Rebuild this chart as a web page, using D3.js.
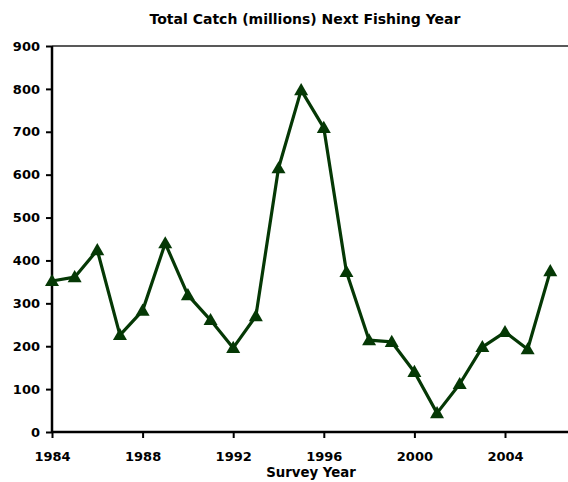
<!DOCTYPE html>
<html>
<head>
<meta charset="utf-8">
<script src="https://cdn.jsdelivr.net/npm/d3@7"></script>
<style>
  body { margin: 0; background: #fff; }
  svg { display: block; font-family: "DejaVu Sans", sans-serif; }
</style>
</head>
<body>
<svg id="chart" width="568" height="482"></svg>
<script>
// survey years and total catch (millions)
var years = [1984, 1985, 1986, 1987, 1988, 1989, 1990, 1991, 1992, 1993, 1994, 1995,
             1996, 1997, 1998, 1999, 2000, 2001, 2002, 2003, 2004, 2005, 2006];
var catchValues = [352, 361, 424, 226, 283, 440, 319, 261, 196, 270, 615, 797,
                   709, 373, 214, 210, 140, 44, 112, 198, 233, 193, 375];
var xTicks = [1984, 1988, 1992, 1996, 2000, 2004];
var yTicks = [0, 100, 200, 300, 400, 500, 600, 700, 800, 900];

var svg = d3.select("#chart");

var x = d3.scaleLinear()
    .domain([1984, 2007])
    .range([52, 52 + 23 * 22.65]);

var y = d3.scaleLinear()
    .domain([0, 900])
    .range([432, 46]);

// top frame line
svg.append("line")
    .attr("x1", x(1984))
    .attr("x2", 568)
    .attr("y1", y(900))
    .attr("y2", y(900))
    .attr("stroke", "#222")
    .attr("stroke-width", 1.6);

var yAxis = svg.append("g")
    .attr("transform", "translate(" + x(1984) + ",0)")
    .call(d3.axisLeft(y).tickValues(yTicks).tickSize(6).tickPadding(6));

var xAxis = svg.append("g")
    .attr("transform", "translate(0," + y(0) + ")")
    .call(d3.axisBottom(x).tickValues(xTicks).tickFormat(d3.format("d")).tickSize(6).tickPadding(14));

[yAxis, xAxis].forEach(function (ax) {
    ax.attr("font-family", null).attr("font-size", null);
    ax.select(".domain").attr("stroke", "#000").attr("stroke-width", 2.5);
    ax.selectAll(".tick line").attr("stroke", "#000").attr("stroke-width", 2);
    ax.selectAll(".tick text")
        .attr("fill", "#000")
        .style("font-family", "DejaVu Sans, sans-serif")
        .style("font-weight", "bold")
        .style("font-size", "13px");
});
yAxis.select(".domain").attr("d", "M0," + y(0) + "V" + y(900));
xAxis.select(".domain").attr("d", "M" + x(1984) + ",0H568");

var pts = years.map(function (d, i) { return [d, catchValues[i]]; });

var line = d3.line()
    .x(function (d) { return x(d[0]); })
    .y(function (d) { return y(d[1]); });

svg.append("path")
    .datum(pts)
    .attr("d", line)
    .attr("fill", "none")
    .attr("stroke", "#053805")
    .attr("stroke-width", 3.2)
    .attr("stroke-linejoin", "round");

var tri = d3.symbol().type(d3.symbolTriangle).size(85);

svg.selectAll(".marker")
    .data(pts)
    .enter().append("path")
    .attr("class", "marker")
    .attr("transform", function (d) { return "translate(" + x(d[0]) + "," + (y(d[1]) + 1) + ")"; })
    .attr("d", tri)
    .attr("fill", "#053805");

// title and axis label
svg.append("text")
    .attr("x", 305)
    .attr("y", 24)
    .attr("text-anchor", "middle")
    .style("font-weight", "bold")
    .style("font-size", "14px")
    .text("Total Catch (millions) Next Fishing Year");

svg.append("text")
    .attr("x", 311)
    .attr("y", 477)
    .attr("text-anchor", "middle")
    .style("font-weight", "bold")
    .style("font-size", "13.3px")
    .text("Survey Year");
</script>
</body>
</html>
